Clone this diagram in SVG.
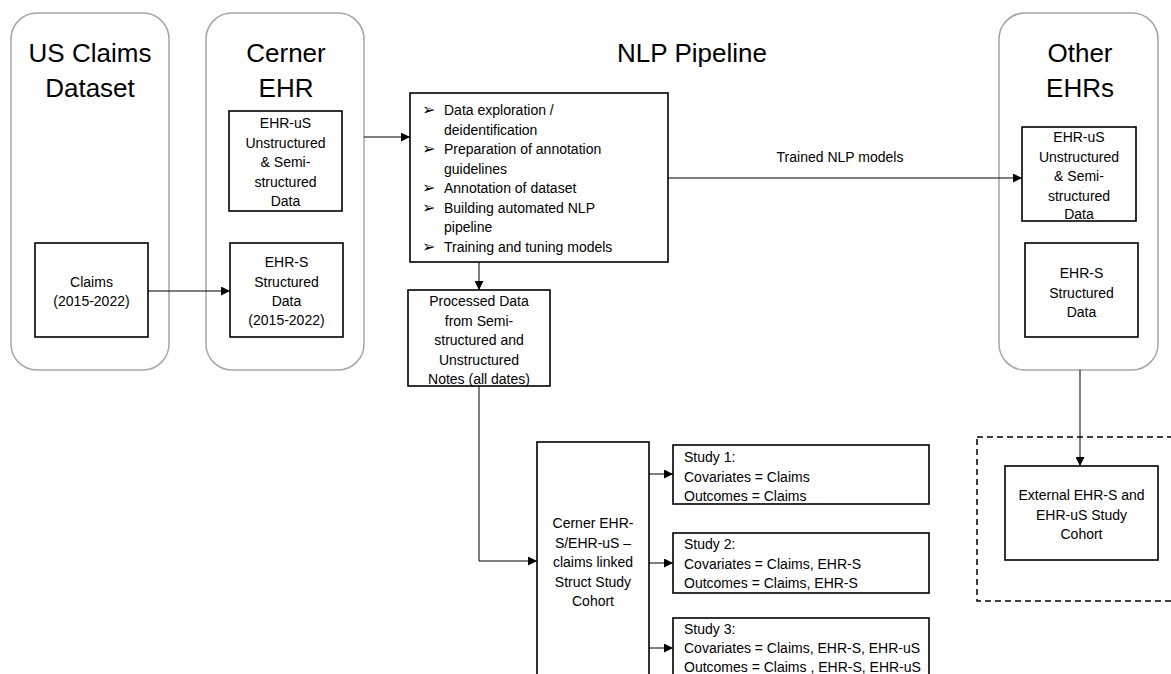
<svg xmlns="http://www.w3.org/2000/svg" width="1171" height="674" viewBox="0 0 1171 674">
<style>
.cont{fill:#fff;stroke:#a6a6a6;stroke-width:1.5}
.box{fill:#fff;stroke:#000;stroke-width:1.6}
.ln{fill:none;stroke:#000;stroke-width:1}
.t{font-family:"Liberation Sans",Arial,sans-serif;font-size:14px;fill:#000}
.c{text-anchor:middle}
.h{font-family:"Liberation Sans",Arial,sans-serif;font-size:26px;fill:#000;text-anchor:middle}
.b{font-family:"DejaVu Sans",sans-serif;font-size:16px}
</style>
<defs>
<marker id="ah" viewBox="0 0 10 10" refX="10" refY="5" markerWidth="9" markerHeight="9" markerUnits="userSpaceOnUse" orient="auto">
<path d="M0,0 L10,5 L0,10 z" fill="#000"/>
</marker>
</defs>
<rect width="1171" height="674" fill="#fff"/>

<g id="us-claims">
<rect class="cont" x="11" y="13" width="158" height="357" rx="26"/>
<text class="h" x="90" y="62">US Claims</text>
<text class="h" x="90" y="97">Dataset</text>
</g>
<g id="claims">
<rect class="box" x="35" y="243" width="113" height="94"/>
<text class="t c" x="91.5" y="287">Claims</text>
<text class="t c" x="91.5" y="306">(2015-2022)</text>
</g>

<g id="cerner">
<rect class="cont" x="206" y="13" width="158" height="357" rx="26"/>
<text class="h" x="286" y="62">Cerner</text>
<text class="h" x="286" y="97">EHR</text>
</g>
<g id="cerner-ehr-us">
<rect class="box" x="229" y="111" width="113" height="100"/>
<text class="t c" x="285.5" y="128">EHR-uS</text>
<text class="t c" x="285.5" y="147.5">Unstructured</text>
<text class="t c" x="285.5" y="167">&amp; Semi-</text>
<text class="t c" x="285.5" y="186.5">structured</text>
<text class="t c" x="285.5" y="206">Data</text>
</g>
<g id="cerner-ehr-s">
<rect class="box" x="230" y="243" width="113" height="94"/>
<text class="t c" x="286.5" y="267">EHR-S</text>
<text class="t c" x="286.5" y="286.5">Structured</text>
<text class="t c" x="286.5" y="306">Data</text>
<text class="t c" x="286.5" y="325">(2015-2022)</text>
</g>

<g id="nlp-title">
<text class="h" x="692" y="62">NLP Pipeline</text>
</g>
<g id="pipeline">
<rect class="box" x="410" y="93" width="258" height="169"/>
<text class="t"><tspan class="b" x="422" y="115">➢</tspan><tspan x="444" y="115">Data exploration /</tspan></text>
<text class="t" x="444" y="134.5">deidentification</text>
<text class="t"><tspan class="b" x="422" y="154">➢</tspan><tspan x="444" y="154">Preparation of annotation</tspan></text>
<text class="t" x="444" y="173.5">guidelines</text>
<text class="t"><tspan class="b" x="422" y="193">➢</tspan><tspan x="444" y="193">Annotation of dataset</tspan></text>
<text class="t"><tspan class="b" x="422" y="212.5">➢</tspan><tspan x="444" y="212.5">Building automated NLP</tspan></text>
<text class="t" x="444" y="232">pipeline</text>
<text class="t"><tspan class="b" x="422" y="251.5">➢</tspan><tspan x="444" y="251.5">Training and tuning models</tspan></text>
</g>
<g id="processed">
<rect class="box" x="408" y="290" width="142" height="96"/>
<text class="t c" x="479" y="306">Processed Data</text>
<text class="t c" x="479" y="325.5">from Semi-</text>
<text class="t c" x="479" y="345">structured and</text>
<text class="t c" x="479" y="364.5">Unstructured</text>
<text class="t c" x="479" y="384">Notes (all dates)</text>
</g>

<g id="cohort">
<rect class="box" x="537" y="442" width="112" height="260"/>
<text class="t c" x="593" y="528">Cerner EHR-</text>
<text class="t c" x="593" y="547.5">S/EHR-uS –</text>
<text class="t c" x="593" y="567">claims linked</text>
<text class="t c" x="593" y="586.5">Struct Study</text>
<text class="t c" x="593" y="606">Cohort</text>
</g>
<g id="study1">
<rect class="box" x="673" y="445" width="256" height="59"/>
<text class="t" x="684" y="462">Study 1:</text>
<text class="t" x="684" y="481.5">Covariates = Claims</text>
<text class="t" x="684" y="501">Outcomes = Claims</text>
</g>
<g id="study2">
<rect class="box" x="673" y="533" width="256" height="60"/>
<text class="t" x="684" y="549">Study 2:</text>
<text class="t" x="684" y="568.5">Covariates = Claims, EHR-S</text>
<text class="t" x="684" y="588">Outcomes = Claims, EHR-S</text>
</g>
<g id="study3">
<rect class="box" x="673" y="618" width="256" height="80"/>
<text class="t" x="684" y="634">Study 3:</text>
<text class="t" x="684" y="653">Covariates = Claims, EHR-S, EHR-uS</text>
<text class="t" x="684" y="672">Outcomes = Claims , EHR-S, EHR-uS</text>
</g>

<g id="other-ehrs">
<rect class="cont" x="999" y="13" width="159" height="357" rx="26"/>
<text class="h" x="1080" y="62">Other</text>
<text class="h" x="1080" y="97">EHRs</text>
</g>
<g id="other-ehr-us">
<rect class="box" x="1022" y="127" width="114" height="94"/>
<text class="t c" x="1079" y="142">EHR-uS</text>
<text class="t c" x="1079" y="161.5">Unstructured</text>
<text class="t c" x="1079" y="181">&amp; Semi-</text>
<text class="t c" x="1079" y="200.5">structured</text>
<text class="t c" x="1079" y="219">Data</text>
</g>
<g id="other-ehr-s">
<rect class="box" x="1025" y="243" width="113" height="94"/>
<text class="t c" x="1081.5" y="278">EHR-S</text>
<text class="t c" x="1081.5" y="297.5">Structured</text>
<text class="t c" x="1081.5" y="317">Data</text>
</g>

<g id="external-group">
<rect x="977" y="437" width="210" height="164" fill="none" stroke="#000" stroke-width="1.5" stroke-dasharray="6,4"/>
</g>
<g id="external">
<rect class="box" x="1005" y="466" width="153" height="94"/>
<text class="t c" x="1081.5" y="500">External EHR-S and</text>
<text class="t c" x="1081.5" y="519.5">EHR-uS Study</text>
<text class="t c" x="1081.5" y="539">Cohort</text>
</g>

<g id="connectors">
<line class="ln" x1="148" y1="291" x2="230" y2="291" marker-end="url(#ah)"/>
<line class="ln" x1="364" y1="137" x2="410" y2="137" marker-end="url(#ah)"/>
<line class="ln" x1="668" y1="178" x2="1022" y2="178" marker-end="url(#ah)"/>
<text class="t c" x="840" y="162">Trained NLP models</text>
<line class="ln" x1="479" y1="262" x2="479" y2="290" marker-end="url(#ah)"/>
<polyline class="ln" points="479,386 479,561 537,561" marker-end="url(#ah)"/>
<line class="ln" x1="649" y1="474" x2="673" y2="474" marker-end="url(#ah)"/>
<line class="ln" x1="649" y1="563" x2="673" y2="563" marker-end="url(#ah)"/>
<line class="ln" x1="649" y1="648" x2="673" y2="648" marker-end="url(#ah)"/>
<line class="ln" x1="1080" y1="370" x2="1080" y2="466" marker-end="url(#ah)"/>
</g>
</svg>
